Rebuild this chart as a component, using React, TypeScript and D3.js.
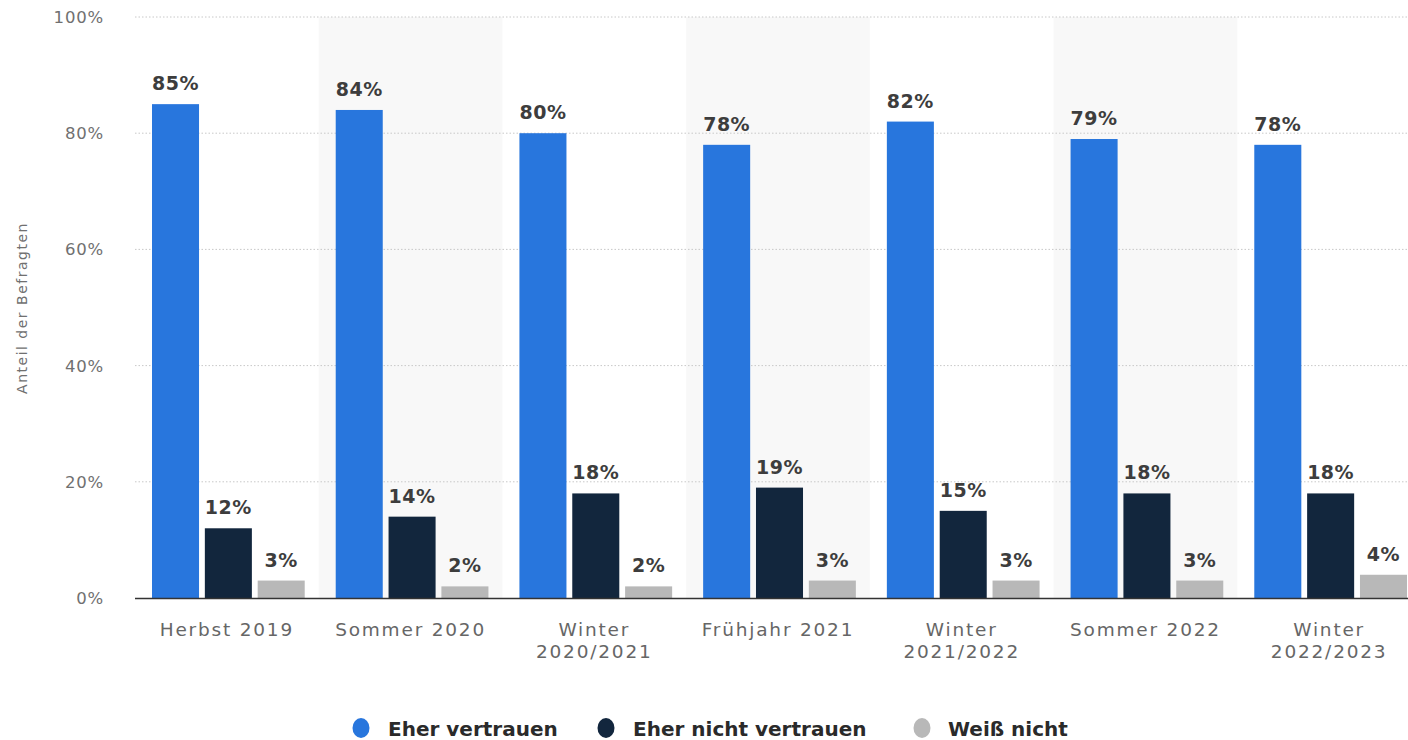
import React from "react";
import * as d3 from "d3";

const categories = [
  ["Herbst 2019"],
  ["Sommer 2020"],
  ["Winter", "2020/2021"],
  ["Frühjahr 2021"],
  ["Winter", "2021/2022"],
  ["Sommer 2022"],
  ["Winter", "2022/2023"],
];
const seriesNames = ["Eher vertrauen", "Eher nicht vertrauen", "Weiß nicht"];
const eherVertrauen = [85, 84, 80, 78, 82, 79, 78];
const eherNichtVertrauen = [12, 14, 18, 19, 15, 18, 18];
const weissNicht = [3, 2, 2, 3, 3, 3, 4];
const yTicks = [0, 20, 40, 60, 80, 100];
const colors = ["#2876dd", "#12263d", "#b8b8b8"];

export default function App() {
  const W = 1408, H = 740;
  const left = 135, right = 1421, top = 17, bottom = 598;
  const series = [eherVertrauen, eherNichtVertrauen, weissNicht];
  const x0 = d3.scaleBand<number>().domain(d3.range(categories.length)).range([left, right]).paddingInner(0).paddingOuter(0);
  const x1 = d3.scaleBand<number>().domain([0, 1, 2]).range([17, x0.bandwidth() - 14]).paddingInner(0.11);
  const y = d3.scaleLinear().domain([0, 100]).range([bottom, top]);
  const font = "'DejaVu Sans', Verdana, sans-serif";
  const legendCx = [361, 606, 922];
  const legendTx = [388, 633, 948];
  return (
    <svg width={W} height={H} style={{ position: "absolute", left: 0, top: 0, background: "#fff" }}>
      {categories.map((c, i) =>
        i % 2 === 1 ? (
          <rect key={"bg" + i} x={x0(i)!} y={top} width={x0.bandwidth()} height={bottom - top} fill="#f8f8f8" />
        ) : null
      )}
      {yTicks.map((t) => (
        <g key={t}>
          {t > 0 && (
            <line x1={left} x2={W} y1={y(t)} y2={y(t)} stroke="#c8c8c8" strokeWidth={1} strokeDasharray="1.5,2" />
          )}
          <text x={104} y={y(t) + 6} textAnchor="end" fontSize={16.5} letterSpacing={0.8} fill="#707070" fontFamily={font}>
            {t}%
          </text>
        </g>
      ))}
      <text
        transform={`translate(27,${308}) rotate(-90)`}
        textAnchor="middle"
        fontSize={14}
        letterSpacing={1.5}
        fill="#707070"
        fontFamily={font}
      >
        Anteil der Befragten
      </text>
      {series.map((vals, s) =>
        vals.map((v, i) => {
          const bx = x0(i)! + x1(s)!;
          return (
            <g key={s + "-" + i}>
              <rect x={bx} y={y(v)} width={x1.bandwidth()} height={bottom - y(v)} fill={colors[s]} />
              <text
                x={bx + x1.bandwidth() / 2}
                y={y(v) - 14}
                textAnchor="middle"
                fontSize={19}
                letterSpacing={0.5}
                fontWeight="bold"
                fill="#3d3d3d"
                fontFamily={font}
              >
                {v}%
              </text>
            </g>
          );
        })
      )}
      <line x1={left} x2={W} y1={bottom + 0.5} y2={bottom + 0.5} stroke="#333" strokeWidth={1.5} />
      {categories.map((c, i) => (
        <text
          key={"c" + i}
          x={x0(i)! + x0.bandwidth() / 2}
          textAnchor="middle"
          fontSize={18.5}
          fill="#666"
          fontFamily={font}
          letterSpacing={1.8}
        >
          {c.map((line, k) => (
            <tspan key={k} x={x0(i)! + x0.bandwidth() / 2} y={636 + k * 22}>
              {line}
            </tspan>
          ))}
        </text>
      ))}
      {seriesNames.map((n, s) => (
        <g key={n}>
          <ellipse cx={legendCx[s]} cy={728} rx={8.5} ry={10} fill={colors[s]} />
          <text x={legendTx[s]} y={736} fontSize={20} fontWeight="bold" fill="#2a2a2a" fontFamily={font}>
            {n}
          </text>
        </g>
      ))}
    </svg>
  );
}
